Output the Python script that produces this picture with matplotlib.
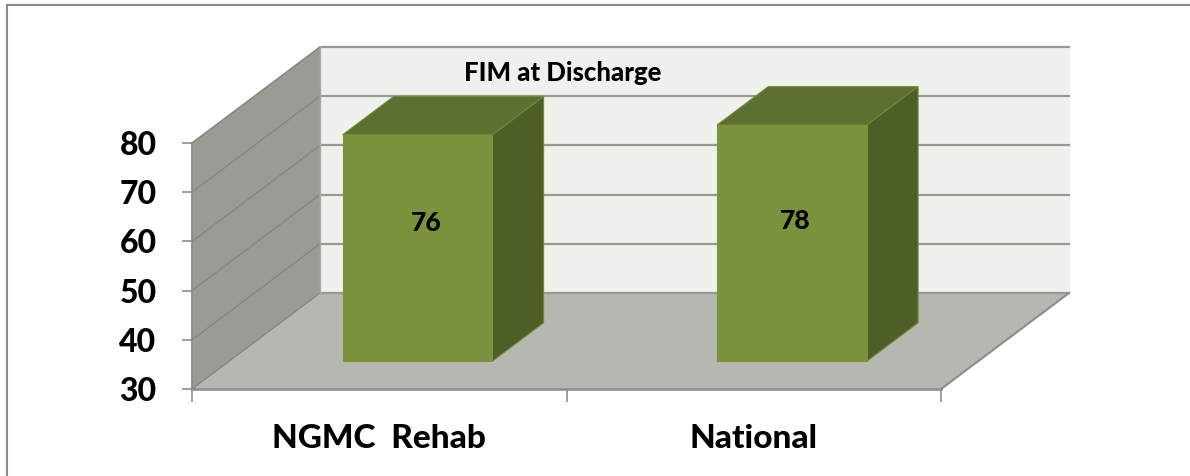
import matplotlib
matplotlib.use("Agg")
import matplotlib.pyplot as plt
from matplotlib.lines import Line2D
from matplotlib.patches import Polygon

# Chart values
categories = ["NGMC  Rehab", "National"]
values = [76, 78]
y_ticks = [30, 40, 50, 60, 70, 80]
title = "FIM at Discharge"

# Colours
wall_back = "#EFF2EC"
wall_left = "#999B94"
floor_col = "#B5B8B0"
grid_col = "#979993"
grid_side = "#85877F"
bar_front = "#7A933C"
bar_top = "#5C702F"
bar_side = "#4D5E26"
bar_edge = "#6F8A38"
edge_col = "#8C8C8C"

W, H = 1190, 476
plt.rcParams['font.family'] = ['Lato', 'DejaVu Sans']
heavy = 900

fig = plt.figure(figsize=(W/100, H/100), dpi=100)

# Axes sits on the front plane of the 3D box (pixels)
left, right, top, bottom = 192, 941, 143, 389
ax = fig.add_axes([left/W, 1-bottom/H, (right-left)/W, (bottom-top)/H])
ax.set_xlim(0, len(categories))
ax.set_ylim(y_ticks[0], y_ticks[-1])
ax.patch.set_visible(False)

# Fake perspective: how far a point moves going all the way to the back wall
depth_x = 128/((right-left)/len(categories))
depth_y = 96/((bottom-top)/(y_ticks[-1]-y_ticks[0]))

def proj(x, y, d):
    return (x + d*depth_x, y + d*depth_y)

def face(pts, color, z, edge=None):
    ax.add_patch(Polygon([proj(*p) for p in pts], closed=True, facecolor=color,
                         edgecolor=edge if edge else color, lw=0.8, zorder=z, clip_on=False))

xmax = len(categories)
ymin = y_ticks[0]
ymax = y_ticks[-1]

# Walls and floor
face([(0, ymin, 1), (xmax, ymin, 1), (xmax, ymax, 1), (0, ymax, 1)], wall_back, 1)
face([(0, ymin, 0), (0, ymin, 1), (0, ymax, 1), (0, ymax, 0)], wall_left, 1)
face([(0, ymin, 0), (xmax, ymin, 0), (xmax, ymin, 1), (0, ymin, 1)], floor_col, 1)

# Gridlines, along the side wall then across the back wall
for t in y_ticks:
    a = proj(0, t, 0)
    b = proj(0, t, 1)
    c = proj(xmax, t, 1)
    ax.plot([a[0], b[0]], [a[1], b[1]], color=grid_side, lw=1.0, zorder=2, clip_on=False)
    ax.plot([b[0], c[0]], [b[1], c[1]], color=grid_col, lw=1.6, zorder=2, clip_on=False)

# Edges of the box
a = proj(xmax, ymin, 0)
b = proj(xmax, ymin, 1)
ax.plot([a[0], b[0]], [a[1], b[1]], color=edge_col, lw=1.5, zorder=2, clip_on=False)
a = proj(0, ymin, 1)
b = proj(0, ymax, 1)
ax.plot([a[0], b[0]], [a[1], b[1]], color="#A9ABA5", lw=1.0, zorder=2, clip_on=False)

# Bars
bar_w = 0.2
d0, d1 = 0.29, 0.69
for i, v in enumerate(values):
    x0 = i + 0.503 - bar_w
    x1 = i + 0.503 + bar_w
    face([(x0, v, d0), (x1, v, d0), (x1, v, d1), (x0, v, d1)], bar_top, 3, bar_edge)
    face([(x1, ymin, d0), (x1, ymin, d1), (x1, v, d1), (x1, v, d0)], bar_side, 3, bar_edge)
    face([(x0, ymin, d0), (x1, ymin, d0), (x1, v, d0), (x0, v, d0)], bar_front, 4, bar_front)

# Value labels, nudged the way they sit in the picture
label_nudge = [(6, 18), (2, 16)]
for i, v in enumerate(values):
    fx, fy = proj(i + 0.505, (ymin + v)/2, d0)
    ax.annotate(str(v), (fx, fy), xytext=label_nudge[i], textcoords="offset points",
                ha="center", va="center", fontsize=19, fontweight=heavy,
                color="black", zorder=6)

# Real axis ticks
for s in ["top", "right"]:
    ax.spines[s].set_visible(False)
for s in ["left", "bottom"]:
    ax.spines[s].set_color(edge_col)
    ax.spines[s].set_zorder(5)
ax.spines["left"].set_linewidth(1.2)
ax.spines["bottom"].set_linewidth(1.8)

ax.set_yticks(y_ticks)
ax.set_yticklabels([str(t) for t in y_ticks], fontsize=23, fontweight=heavy)
ax.tick_params(axis="y", length=7.5, width=1.2, color=edge_col, pad=18)
ax.set_xticks(range(xmax + 1))
ax.set_xticklabels([])
ax.tick_params(axis="x", which="major", length=9, width=1.2, color=edge_col)
ax.set_xticks([i + 0.5 for i in range(xmax)], minor=True)
ax.set_xticklabels(categories, minor=True, fontsize=24, fontweight=heavy)
ax.tick_params(axis="x", which="minor", length=0, pad=25)

# Title sits inside the back wall
fig.text(563/W, 1-73/H, title, ha="center", va="center", fontsize=18.5,
         fontweight=heavy, color="black")

# Outer frame, only top and left show in the picture
fig.add_artist(Line2D([7/W, 7/W], [0, 1-5/H], color=edge_col, lw=1.5))
fig.add_artist(Line2D([7/W, 1], [1-5/H, 1-5/H], color=edge_col, lw=1.5))

fig.savefig("out.png", dpi=100)
